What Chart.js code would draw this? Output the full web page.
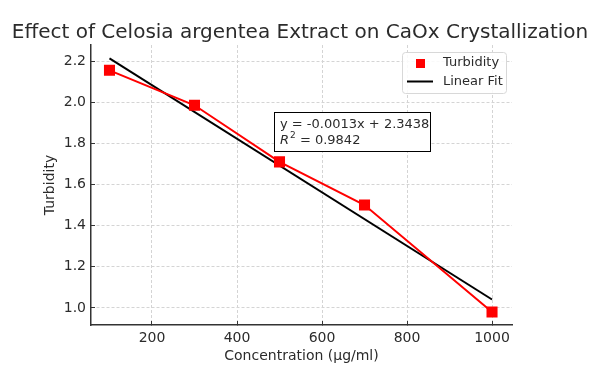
<!DOCTYPE html>
<html>
<head>
<meta charset="utf-8">
<script src="https://cdn.jsdelivr.net/npm/chart.js@4.4.1/dist/chart.umd.min.js"></script>
<style>
  html, body { margin: 0; padding: 0; background: #ffffff; }
  #wrap { width: 609px; height: 373px; }
</style>
</head>
<body>
<div id="wrap"><canvas id="c" width="609" height="373"></canvas></div>
<script>
// ---- data ----
const chartTitle = 'Effect of Celosia argentea Extract on CaOx Crystallization';
const xAxisTitle = 'Concentration (µg/ml)';
const yAxisTitle = 'Turbidity';
const concentrations = [100, 300, 500, 700, 1000];
const turbidity = [2.155, 1.985, 1.71, 1.50, 0.98];
const fitX = [100, 1000];
const fitY = [2.213, 1.041];
const seriesLabels = ['Turbidity', 'Linear Fit'];
const equationText = 'y = -0.0013x + 2.3438';
const r2Value = '0.9842';
const xTicks = [200, 400, 600, 800, 1000];
const yTicks = [1.0, 1.2, 1.4, 1.6, 1.8, 2.0, 2.2];

const FONT = "'DejaVu Sans', sans-serif";
const TEXT = '#2b2b2b';

const overlayPlugin = {
  id: 'overlay',
  afterDraw(chart) {
    const ctx = chart.ctx;
    const a = chart.chartArea;
    ctx.save();
    // title
    ctx.fillStyle = TEXT;
    ctx.font = '20px ' + FONT;
    ctx.textAlign = 'center';
    ctx.textBaseline = 'alphabetic';
    ctx.fillText(chartTitle, 300, 38);

    // legend
    const lw = 104, lh = 41;
    const lx = a.right - 6 - lw, ly = a.top + 7;
    ctx.fillStyle = 'rgba(255,255,255,0.85)';
    ctx.strokeStyle = '#d8d8d8';
    ctx.lineWidth = 1;
    ctx.beginPath();
    ctx.roundRect(lx + 0.5, ly + 0.5, lw, lh, 3);
    ctx.fill();
    ctx.stroke();
    ctx.font = '13px ' + FONT;
    ctx.textAlign = 'left';
    ctx.textBaseline = 'middle';
    ctx.fillStyle = '#ff0000';
    ctx.fillRect(lx + 14, ly + 7, 9, 9);
    ctx.fillStyle = TEXT;
    ctx.fillText(chart.data.datasets[0].label, lx + 41, ly + 11);
    ctx.strokeStyle = '#000000';
    ctx.lineWidth = 2;
    ctx.beginPath();
    ctx.moveTo(lx + 5, ly + 29.5);
    ctx.lineTo(lx + 31, ly + 29.5);
    ctx.stroke();
    ctx.fillText(chart.data.datasets[1].label, lx + 41, ly + 29.5);

    // equation box
    const bx = a.left + 183, by = a.top + 67, bw = 156, bh = 39;
    ctx.fillStyle = '#ffffff';
    ctx.fillRect(bx, by, bw, bh);
    ctx.strokeStyle = '#000000';
    ctx.lineWidth = 1;
    ctx.strokeRect(bx + 0.5, by + 0.5, bw, bh);
    ctx.fillStyle = TEXT;
    ctx.font = '13px ' + FONT;
    ctx.textBaseline = 'alphabetic';
    ctx.fillText(equationText, bx + 6, by + 16);
    ctx.font = 'italic 13px ' + FONT;
    ctx.fillText('R', bx + 6, by + 32);
    let w = ctx.measureText('R').width;
    ctx.font = '9px ' + FONT;
    ctx.fillText('2', bx + 6 + w + 1, by + 26);
    const w2 = ctx.measureText('2').width;
    ctx.font = '13px ' + FONT;
    ctx.fillText(' = ' + r2Value, bx + 6 + w + 1 + w2, by + 32);
    ctx.restore();
  }
};

const gridOpts = {
  color: '#d4d4d4', lineWidth: 1, drawTicks: true, tickLength: -4,
  tickColor: '#333333', tickWidth: 1, tickBorderDash: []
};

new Chart(document.getElementById('c'), {
  type: 'scatter',
  data: {
    datasets: [
      {
        label: seriesLabels[0],
        data: concentrations.map((x, i) => ({ x: x, y: turbidity[i] })),
        showLine: true,
        borderColor: '#ff0000',
        backgroundColor: '#ff0000',
        borderWidth: 2,
        pointStyle: 'rect',
        pointRadius: 6.4,
        pointHoverRadius: 6.4,
        order: 0
      },
      {
        label: seriesLabels[1],
        data: fitX.map((x, i) => ({ x: x, y: fitY[i] })),
        showLine: true,
        borderColor: '#000000',
        backgroundColor: '#000000',
        borderWidth: 2,
        pointRadius: 0,
        order: 1
      }
    ]
  },
  options: {
    responsive: false,
    animation: false,
    events: [],
    layout: { padding: { left: 0, right: 97, top: 45, bottom: 0 } },
    plugins: { legend: { display: false }, title: { display: false }, tooltip: { enabled: false } },
    scales: {
      x: {
        type: 'linear',
        min: 56.5,
        max: 1047,
        afterFit(s) { s.height = 48; },
        afterBuildTicks(s) { s.ticks = xTicks.map(v => ({ value: v })); },
        ticks: { font: { family: FONT, size: 14 }, color: TEXT, padding: 9, maxRotation: 0, callback: v => String(v) },
        grid: gridOpts,
        border: { display: true, color: '#333333', width: 1.5, dash: [3, 2] },
        title: { display: true, text: xAxisTitle, font: { family: FONT, size: 14 }, color: TEXT, padding: { top: 0, bottom: 8 } }
      },
      y: {
        type: 'linear',
        min: 0.917,
        max: 2.278,
        afterFit(s) { s.width = 91; },
        afterBuildTicks(s) { s.ticks = yTicks.map(v => ({ value: v })); },
        ticks: { font: { family: FONT, size: 14 }, color: TEXT, padding: 9, callback: v => Number(v).toFixed(1) },
        grid: gridOpts,
        border: { display: true, color: '#333333', width: 1.5, dash: [3, 2] },
        title: { display: true, text: yAxisTitle, font: { family: FONT, size: 14 }, color: TEXT, padding: { top: 42, bottom: 0 } }
      }
    }
  },
  plugins: [overlayPlugin]
});
</script>
</body>
</html>
